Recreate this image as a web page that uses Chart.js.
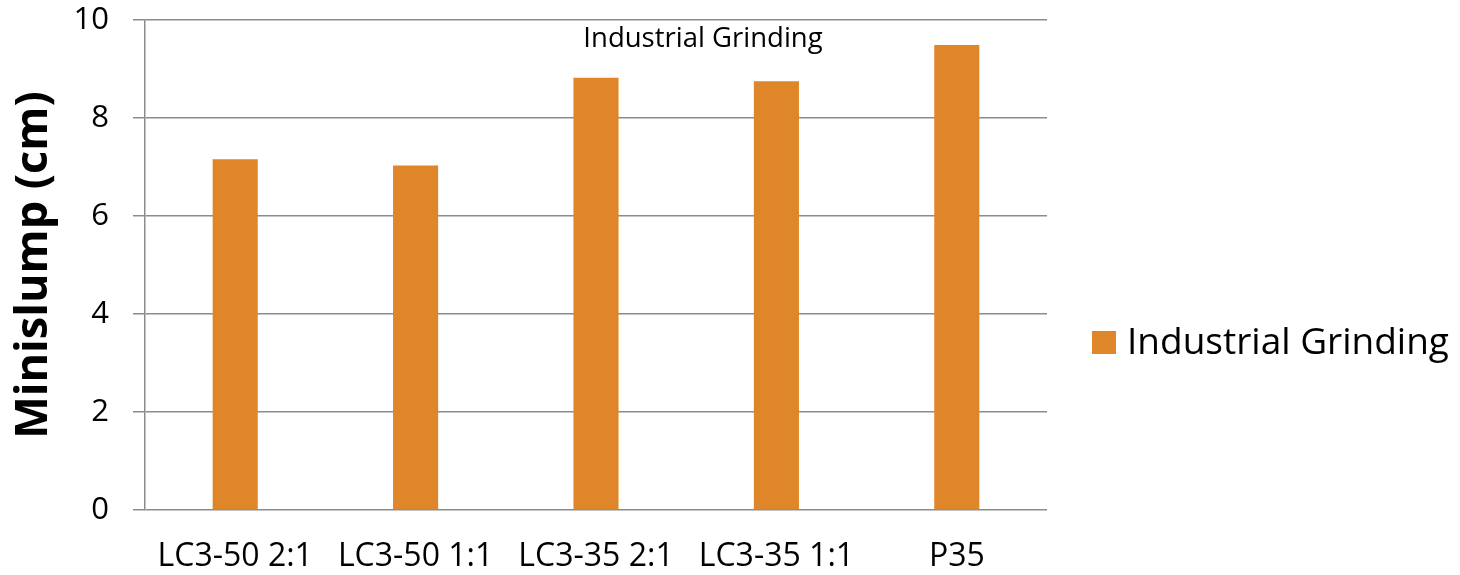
<!DOCTYPE html>
<html>
<head>
<meta charset="utf-8">
<script src="https://cdn.jsdelivr.net/npm/chart.js@4.4.1/dist/chart.umd.min.js"></script>
<style>
  html, body { margin: 0; padding: 0; background: #ffffff; }
  #wrap { width: 1460px; height: 575px; position: relative; }
</style>
</head>
<body>
<div id="wrap"><canvas id="c" width="1460" height="575"></canvas></div>
<script>
const categories = ['LC3-50 2:1', 'LC3-50 1:1', 'LC3-35 2:1', 'LC3-35 1:1', 'P35'];
const seriesName = 'Industrial Grinding';
const minislump = [7.16, 7.03, 8.82, 8.75, 9.49];
const yTicks = [0, 2, 4, 6, 8, 10];
const chartTitle = 'Industrial Grinding';
const yAxisTitle = 'Minislump (cm)';

const BAR_COLOR = '#de8629';
const GRID_COLOR = '#8c8c8c';
const FONT = "'Open Sans', 'Noto Sans', sans-serif";

const overlayText = {
  id: 'overlayText',
  afterDraw(chart) {
    const ctx = chart.ctx;
    ctx.save();
    // title
    ctx.fillStyle = '#000';
    ctx.font = '27.5px ' + FONT;
    ctx.textAlign = 'center';
    ctx.textBaseline = 'alphabetic';
    ctx.fillText(chartTitle, 703, 47);
    // legend
    const ds = chart.data.datasets[0];
    ctx.fillStyle = ds.backgroundColor;
    ctx.fillRect(1092, 331, 24, 23);
    ctx.fillStyle = '#000';
    ctx.font = '37px ' + FONT;
    ctx.textAlign = 'left';
    ctx.fillText(ds.label, 1127, 354);
    ctx.restore();
  }
};

new Chart(document.getElementById('c'), {
  type: 'bar',
  data: {
    labels: categories,
    datasets: [{
      label: seriesName,
      data: minislump,
      backgroundColor: BAR_COLOR,
      borderWidth: 0,
      barPercentage: 0.5,
      categoryPercentage: 0.5
    }]
  },
  options: {
    responsive: false,
    animation: false,
    devicePixelRatio: 1,
    layout: { padding: { top: 0, right: 413, bottom: 0, left: 0 } },
    plugins: {
      legend: { display: false },
      title: { display: false },
      tooltip: { enabled: false }
    },
    scales: {
      x: {
        grid: { display: false, drawTicks: false },
        border: { display: false },
        ticks: { color: '#000', font: { family: FONT, size: 32 }, padding: 28, maxRotation: 0, autoSkip: false },
        afterFit(scale) { scale.height = 65; }
      },
      y: {
        min: 0,
        max: 10,
        afterBuildTicks(scale) { scale.ticks = yTicks.map(v => ({ value: v })); },
        grid: { color: GRID_COLOR, lineWidth: 1.5, tickLength: 12, drawTicks: true },
        border: { display: true, color: GRID_COLOR, width: 1.5 },
        ticks: { color: '#000', font: { family: FONT, size: 31 }, padding: 24 },
        title: {
          display: true,
          text: yAxisTitle,
          color: '#000',
          font: { family: FONT, size: 45, weight: 'bold' },
          padding: { top: 7, bottom: 0 }
        },
        afterFit(scale) { scale.width = 145; scale.paddingTop = 20; scale.paddingBottom = 0; }
      }
    }
  },
  plugins: [overlayText]
});
</script>
</body>
</html>
